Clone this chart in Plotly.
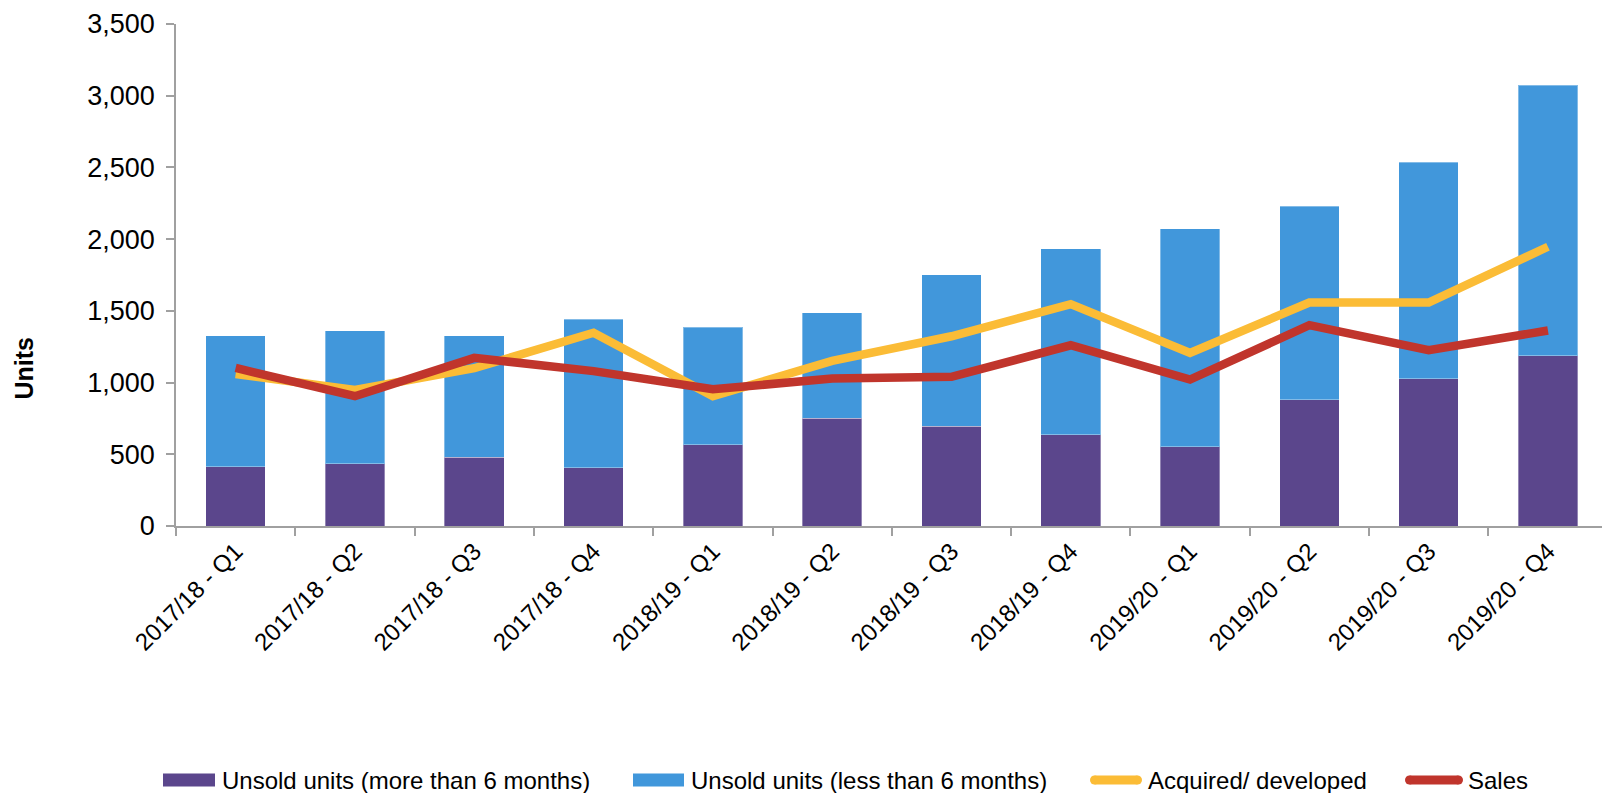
import plotly.graph_objects as go

categories = ["2017/18 - Q1", "2017/18 - Q2", "2017/18 - Q3", "2017/18 - Q4",
              "2018/19 - Q1", "2018/19 - Q2", "2018/19 - Q3", "2018/19 - Q4",
              "2019/20 - Q1", "2019/20 - Q2", "2019/20 - Q3", "2019/20 - Q4"]
unsold_more6 = [412, 433, 481, 405, 567, 753, 695, 635, 551, 881, 1026, 1186]
unsold_less6 = [916, 930, 847, 1035, 817, 733, 1058, 1298, 1521, 1349, 1511, 1888]
acquired = [1060, 948, 1100, 1347, 905, 1151, 1323, 1547, 1207, 1558, 1558, 1947]
sales = [1102, 905, 1172, 1080, 953, 1028, 1040, 1260, 1021, 1400, 1226, 1363]
y_ticks = [0, 500, 1000, 1500, 2000, 2500, 3000, 3500]

PURPLE = "#5B468C"
BLUE = "#4197DB"
YELLOW = "#FBBC36"
RED = "#C0352C"
AXIS = "#A0A0A0"
FONT = "Liberation Sans, Arial, sans-serif"

W, H = 1602, 793
L, R, T, B = 176, 0, 24, 267
PW, PH = W - L - R, H - T - B


def px_x(x):
    return (x - L) / PW


def px_y(y):
    return (H - B - y) / PH


fig = go.Figure()
fig.add_trace(go.Bar(x=categories, y=unsold_more6, name="Unsold units (more than 6 months)",
                     marker=dict(color=PURPLE, line=dict(color="rgba(255,255,255,0.35)", width=1)),
                     width=0.5, showlegend=False))
fig.add_trace(go.Bar(x=categories, y=unsold_less6, name="Unsold units (less than 6 months)",
                     marker=dict(color=BLUE, line=dict(color="rgba(255,255,255,0.35)", width=1)),
                     width=0.5, showlegend=False))
fig.add_trace(go.Scatter(x=categories, y=acquired, name="Acquired/ developed", mode="lines",
                         line=dict(color=YELLOW, width=8.5), showlegend=False))
fig.add_trace(go.Scatter(x=categories, y=sales, name="Sales", mode="lines",
                         line=dict(color=RED, width=8.5), showlegend=False))

shapes = []
annotations = []

# y-axis title
annotations.append(dict(text="<b>Units</b>", x=px_x(23.5), y=px_y(368), xref="paper", yref="paper",
                        textangle=-90, showarrow=False, xanchor="center", yanchor="middle",
                        font=dict(family=FONT, size=25, color="#000000")))

# custom legend
leg_y = 780
items = [
    ("bar", PURPLE, 163, 215, 220, "Unsold units (more than 6 months)"),
    ("bar", BLUE, 633, 684, 689, "Unsold units (less than 6 months)"),
    ("line", YELLOW, 1090, 1142, 1146, "Acquired/ developed"),
    ("line", RED, 1405, 1463, 1466, "Sales"),
]
for kind, color, x0, x1, tx, label in items:
    if kind == "bar":
        shapes.append(dict(type="rect", xref="paper", yref="paper",
                           x0=px_x(x0), x1=px_x(x1), y0=px_y(leg_y + 6.5), y1=px_y(leg_y - 6.5),
                           fillcolor=color, line=dict(width=0)))
    else:
        r = 4.5
        shapes.append(dict(type="rect", xref="paper", yref="paper",
                           x0=px_x(x0 + r), x1=px_x(x1 - r), y0=px_y(leg_y + r), y1=px_y(leg_y - r),
                           fillcolor=color, line=dict(width=0)))
        for cx in (x0 + r, x1 - r):
            shapes.append(dict(type="circle", xref="paper", yref="paper",
                               x0=px_x(cx - r), x1=px_x(cx + r), y0=px_y(leg_y + r), y1=px_y(leg_y - r),
                               fillcolor=color, line=dict(width=0)))
    annotations.append(dict(text=label, x=px_x(tx), y=px_y(leg_y), xref="paper", yref="paper",
                            showarrow=False, xanchor="left", yanchor="middle",
                            font=dict(family=FONT, size=24, color="#000000")))

fig.update_layout(
    width=W, height=H,
    margin=dict(l=L, r=R, t=T, b=B, pad=0),
    barmode="stack",
    plot_bgcolor="white", paper_bgcolor="white",
    font=dict(family=FONT, size=24, color="#000000"),
    shapes=shapes, annotations=annotations,
    xaxis=dict(type="category", categoryorder="array", categoryarray=categories,
               range=[-0.5, -0.5 + PW / 119.3],
               showline=True, linecolor=AXIS, linewidth=1.5,
               ticks="outside", ticklen=8, tickcolor=AXIS, tickwidth=1.5,
               tickson="boundaries", tickangle=-45, showgrid=False,
               tickfont=dict(family=FONT, size=24, color="#000000")),
    yaxis=dict(range=[0, 3500], tickvals=y_ticks, tickformat=",",
               showline=True, linecolor=AXIS, linewidth=1.5,
               ticks="outside", ticklen=8, tickcolor=AXIS, tickwidth=1.5,
               showgrid=False, zeroline=False, ticklabelstandoff=6,
               tickfont=dict(family=FONT, size=27, color="#000000")),
)

fig.write_html("out.html")
